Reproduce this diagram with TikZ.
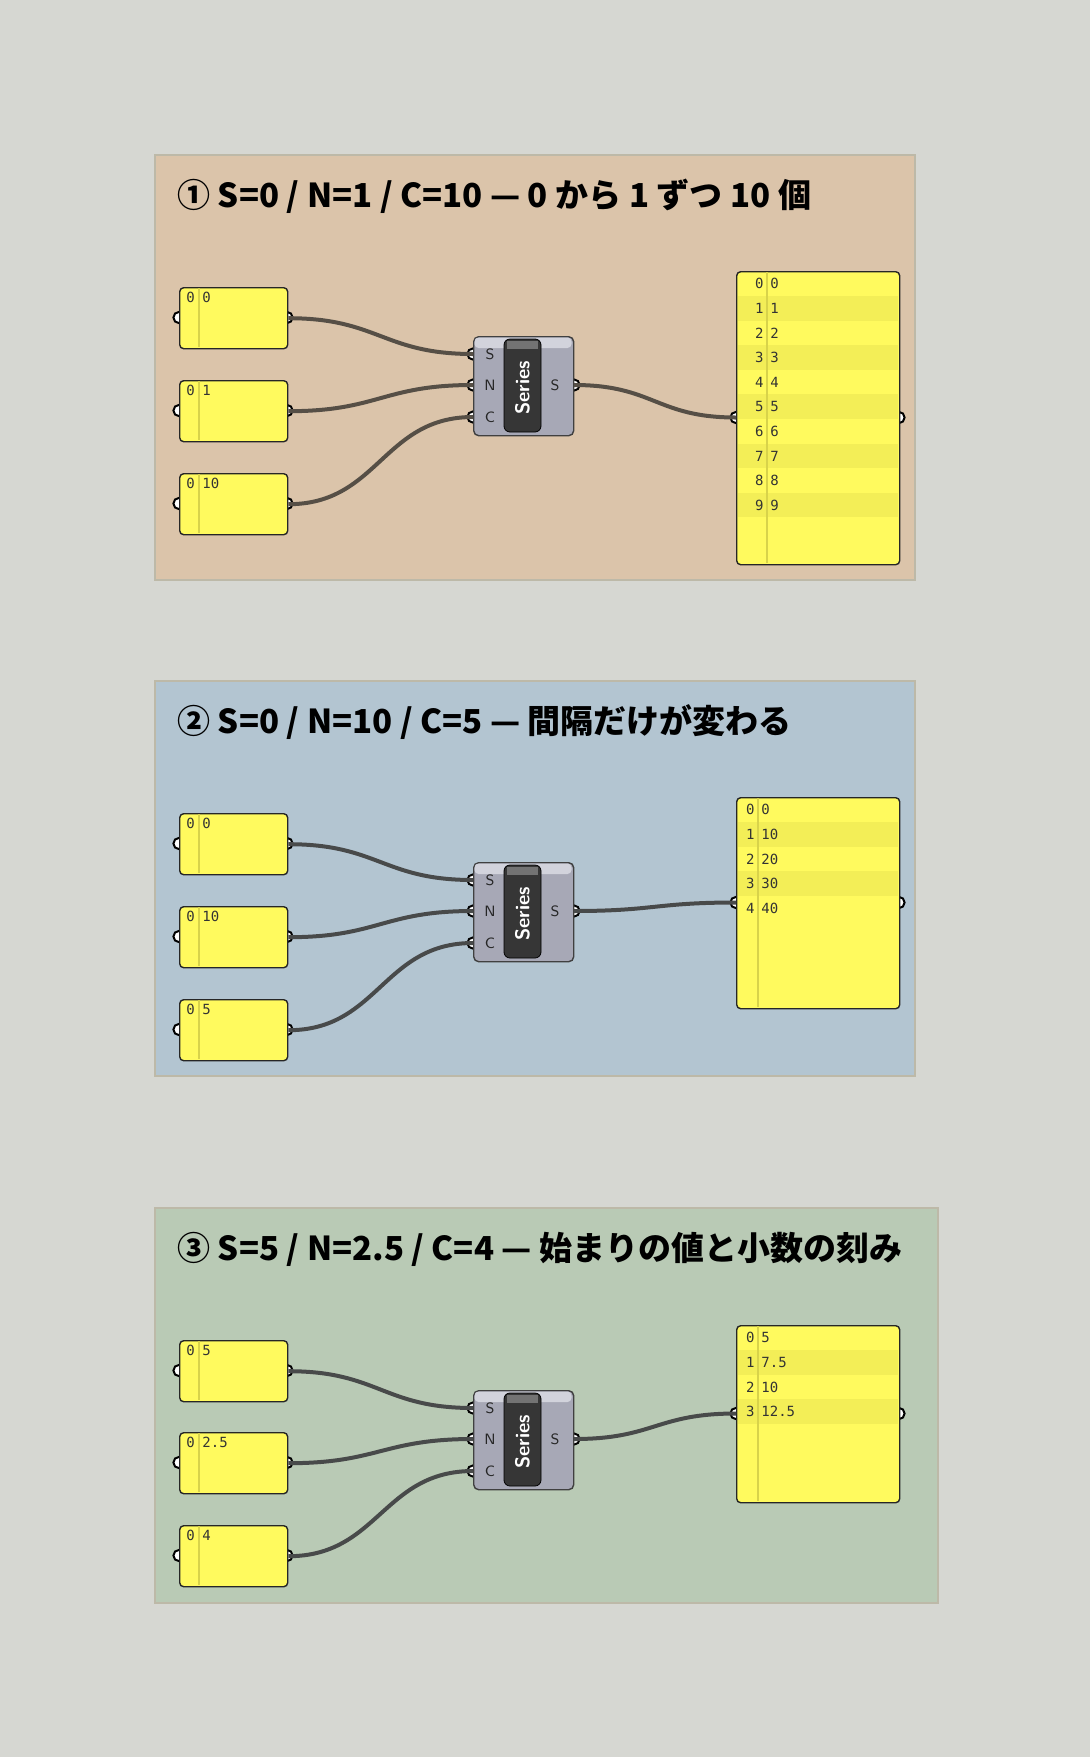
\documentclass[tikz,border=0pt]{standalone}
\usepackage{fontspec}
\setmainfont{Noto Sans CJK JP}
\newfontfamily\cjk{Noto Sans CJK JP}
\newfontfamily\gmono{DejaVu Sans Mono}
\usetikzlibrary{positioning}
\definecolor{canvas}{HTML}{D6D7D2}
\definecolor{tanbg}{HTML}{DBC4AA}
\definecolor{bluebg}{HTML}{B3C5D1}
\definecolor{greenbg}{HTML}{B9CAB5}
\definecolor{paneledge}{HTML}{BDB9A8}
\definecolor{gyellow}{HTML}{FFFA5E}
\definecolor{gstripe}{HTML}{F3EE57}
\definecolor{gdivide}{HTML}{D8D34A}
\definecolor{wirebrown}{HTML}{564F46}
\definecolor{wiregray}{HTML}{484A4A}
\definecolor{compgray}{HTML}{A7A8B6}
\definecolor{comptop}{HTML}{D2D3DC}
\definecolor{compdark}{HTML}{363636}

\tikzset{
  panel/.style={draw=paneledge, line width=0.6pt},
  title/.style={anchor=west, inner sep=0pt, font=\cjk\fontsize{16.5}{19}\selectfont\bfseries},
  numbox/.style={draw=black!85, fill=gyellow, rounded corners=2pt, line width=0.7pt, minimum width=54pt, minimum height=30.5pt, anchor=north west, inner sep=0pt},
  mono/.style={font=\gmono\fontsize{7}{8}\selectfont, text=black!80, inner sep=0pt},
  port/.style={draw=black, fill=white, line width=1pt},
  comp/.style={draw=black!75, fill=compgray, rounded corners=2.5pt, line width=0.7pt, minimum width=50pt, minimum height=49.5pt, anchor=north west, inner sep=0pt},
  pin/.style={font=\sffamily\fontsize{7.5}{8}\selectfont, text=black!85, inner sep=0pt},
  wire/.style={line width=2pt}
}

% number slider panel: name, x, y, value
\newcommand{\numbox}[4]{%
  \draw[port] (#2,#3+30.5) circle (2.8pt);
  \draw[port] (#2+108,#3+30.5) circle (2.8pt);
  \node[numbox] (#1) at (#2,#3) {};
  \draw[gdivide, line width=0.6pt] (#2+20,#3+1) -- (#2+20,#3+60);
  \node[mono, anchor=west] at (#2+7,#3+10) {0};
  \node[mono, anchor=west] at (#2+23,#3+10) {#4};
}

% series component: name, x, y
\newcommand{\seriescomp}[3]{%
  \draw[port] (#2,#3+18) circle (2.8pt);
  \draw[port] (#2,#3+49) circle (2.8pt);
  \draw[port] (#2,#3+81) circle (2.8pt);
  \draw[port] (#2+101,#3+49) circle (2.8pt);
  \node[comp] (#1) at (#2,#3) {};
  \fill[comptop, rounded corners=2pt] (#2+1.5,#3+1.5) rectangle (#2+98.5,#3+12);
  \fill[compdark, draw=black, rounded corners=3pt] (#2+31,#3+3) rectangle (#2+68,#3+96);
  \fill[black!55] (#2+34,#3+5) rectangle (#2+65,#3+13);
  \node[rotate=90, text=white, font=\sffamily\fontsize{10}{12}\selectfont\bfseries] at (#2+49.5,#3+52) {Series};
  \node[pin] at (#2+17,#3+18) {S};
  \node[pin] at (#2+17,#3+49) {N};
  \node[pin] at (#2+17,#3+81) {C};
  \node[pin] at (#2+82,#3+49) {S};
  \coordinate (#1-S) at (#2,#3+18);
  \coordinate (#1-N) at (#2,#3+49);
  \coordinate (#1-C) at (#2,#3+81);
  \coordinate (#1-out) at (#2+101,#3+49);
}

% output panel: name, y top, height, divider x, values
\newcommand{\outlist}[5]{%
  \draw[port] (736,#2+#3/2) circle (2.8pt);
  \draw[port] (899,#2+#3/2) circle (2.8pt);
  \node[numbox, minimum width=81.5pt, minimum height=#3/2*1pt] (#1) at (736,#2) {};
  \foreach \v [count=\i from 0] in {#5} {
    \ifodd\i
      \fill[gstripe] (737.5,#2+0.4+24.6*\i) rectangle (897.5,#2+25+24.6*\i);
    \fi
    \node[mono, anchor=east] at (#4-3,#2+12.7+24.6*\i) {\i};
    \node[mono, anchor=west] at (#4+3,#2+12.7+24.6*\i) {\v};
  }
  \draw[gdivide, line width=0.6pt] (#4,#2+1) -- (#4,#2+#3-1);
  \coordinate (#1-in) at (736,#2+#3/2);
}

\begin{document}
\begin{tikzpicture}[x=0.5pt, y=-0.5pt]
\useasboundingbox (0,0) rectangle (1090,1757);
\fill[canvas] (0,0) rectangle (1090,1757);

% Panel 1
\draw[panel, fill=tanbg] (155,155) rectangle (915,580);
\node[title] (t1) at (177,196) {① S=0 / N=1 / C=10 — 0 から 1 ずつ 10 個};
\numbox{sA}{179}{287}{0}
\numbox{nA}{179}{380}{1}
\numbox{cA}{179}{473}{10}
\seriescomp{serA}{473}{336}
\outlist{outA}{271}{293}{767}{0,1,2,3,4,5,6,7,8,9}
\foreach \a/\b in {sA/serA-S, nA/serA-N, cA/serA-C}
  \draw[wire, wirebrown] (\a.east) .. controls +(45pt,0) and +(-45pt,0) .. (\b);
\draw[wire, wirebrown] (serA-out) .. controls +(40pt,0) and +(-40pt,0) .. (outA-in);

% Panel 2
\draw[panel, fill=bluebg] (155,681) rectangle (915,1076);
\node[title] (t2) at (177,722) {② S=0 / N=10 / C=5 — 間隔だけが変わる};
\numbox{sB}{179}{813}{0}
\numbox{nB}{179}{906}{10}
\numbox{cB}{179}{999}{5}
\seriescomp{serB}{473}{862}
\outlist{outB}{797}{211}{758}{0,10,20,30,40}
\foreach \a/\b in {sB/serB-S, nB/serB-N, cB/serB-C}
  \draw[wire, wiregray] (\a.east) .. controls +(45pt,0) and +(-45pt,0) .. (\b);
\draw[wire, wiregray] (serB-out) .. controls +(40pt,0) and +(-40pt,0) .. (outB-in);

% Panel 3
\draw[panel, fill=greenbg] (155,1208) rectangle (938,1603);
\node[title] (t3) at (177,1249) {③ S=5 / N=2.5 / C=4 — 始まりの値と小数の刻み};
\numbox{sC}{179}{1340}{5}
\numbox{nC}{179}{1432}{2.5}
\numbox{cC}{179}{1525}{4}
\seriescomp{serC}{473}{1390}
\outlist{outC}{1325}{177}{758}{5,7.5,10,12.5}
\foreach \a/\b in {sC/serC-S, nC/serC-N, cC/serC-C}
  \draw[wire, wiregray] (\a.east) .. controls +(45pt,0) and +(-45pt,0) .. (\b);
\draw[wire, wiregray] (serC-out) .. controls +(40pt,0) and +(-40pt,0) .. (outC-in);

\end{tikzpicture}
\end{document}
